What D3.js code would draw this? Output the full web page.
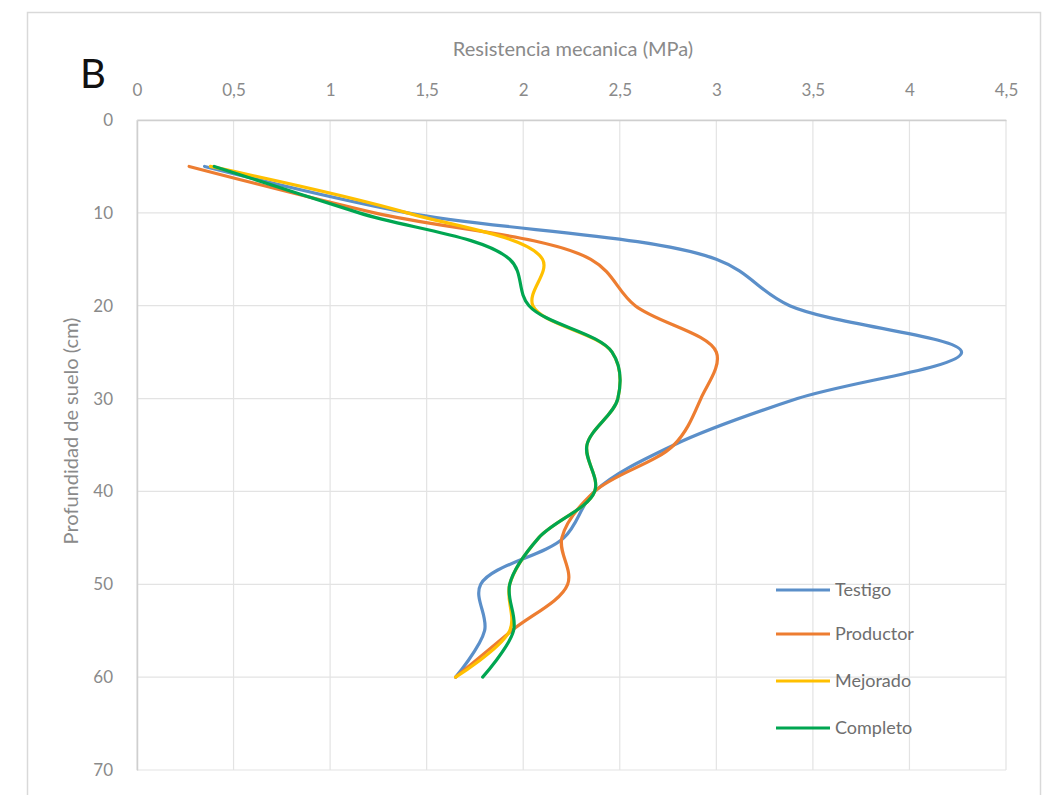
<!DOCTYPE html>
<html>
<head>
<meta charset="utf-8">
<script src="https://cdn.jsdelivr.net/npm/d3@7"></script>
<style>
  html, body { margin: 0; padding: 0; background: #ffffff; }
  svg { display: block; font-family: Lato, "Open Sans", "Liberation Sans", sans-serif; }
</style>
</head>
<body>
<svg id="chart" width="1055" height="795"></svg>
<script>
// Depth of each reading (cm)
const depths = [5, 10, 15, 20, 25, 30, 35, 40, 45, 50, 55, 60];

// Penetration resistance (MPa) per treatment
const testigo   = [0.35, 1.40, 3.00, 3.38, 4.27, 3.42, 2.78, 2.37, 2.21, 1.78, 1.80, 1.65];
const productor = [0.27, 1.23, 2.35, 2.58, 3.00, 2.92, 2.78, 2.37, 2.20, 2.23, 1.94, 1.65];
const mejorado  = [0.38, 1.40, 2.10, 2.05, 2.46, 2.49, 2.33, 2.37, 2.08, 1.93, 1.93, 1.65];
const completo  = [0.40, 1.15, 1.93, 2.03, 2.46, 2.49, 2.33, 2.37, 2.08, 1.93, 1.95, 1.79];

const seriesNames  = ["Testigo", "Productor", "Mejorado", "Completo"];
const seriesValues = [testigo, productor, mejorado, completo];
const seriesColors = ["#5B8FC9", "#ED7D31", "#FFC000", "#00A651"];

const xTicks = [0, 0.5, 1, 1.5, 2, 2.5, 3, 3.5, 4, 4.5];
const yTicks = [0, 10, 20, 30, 40, 50, 60, 70];

const panelLabel = "B";
const xTitle = "Resistencia mecanica (MPa)";
const yTitle = "Profundidad de suelo (cm)";

const svg = d3.select("#chart");

// outer chart frame
svg.append("rect")
  .attr("x", 27.5).attr("y", 12.5)
  .attr("width", 1013).attr("height", 790)
  .attr("fill", "#ffffff")
  .attr("stroke", "#d9d9d9").attr("stroke-width", 1.5);

const plot = { left: 137, right: 1006, top: 120, bottom: 770 };

const x = d3.scaleLinear().domain([0, 4.5]).range([plot.left, plot.right]);
const y = d3.scaleLinear().domain([0, 70]).range([plot.top, plot.bottom]);

const fmt = d => String(d).replace(".", ",");

// grid
const grid = svg.append("g").attr("stroke", "#e3e3e3").attr("stroke-width", 1.2);
grid.selectAll("line.v").data(xTicks).join("line")
  .attr("class", "v")
  .attr("x1", d => x(d)).attr("x2", d => x(d))
  .attr("y1", plot.top).attr("y2", plot.bottom);
grid.selectAll("line.h").data(yTicks).join("line")
  .attr("class", "h")
  .attr("x1", plot.left).attr("x2", plot.right)
  .attr("y1", d => y(d)).attr("y2", d => y(d));

// axes
const xAxis = svg.append("g")
  .attr("transform", `translate(0,${plot.top})`)
  .call(d3.axisTop(x).tickValues(xTicks).tickFormat(fmt).tickSize(0).tickPadding(24));
const yAxis = svg.append("g")
  .attr("transform", `translate(${plot.left},0)`)
  .call(d3.axisLeft(y).tickValues(yTicks).tickFormat(d => d).tickSize(0).tickPadding(24));

[xAxis, yAxis].forEach(ax => {
  ax.select(".domain").attr("stroke", "#cfcfcf").attr("stroke-width", 1.5);
  ax.selectAll("text")
    .attr("fill", "#8a8a8a")
    .style("font-size", "17px")
    .style("font-family", "Lato, 'Open Sans', sans-serif");
});

// series lines
const line = d3.line()
  .x(d => x(d[0]))
  .y(d => y(d[1]))
  .curve(d3.curveCatmullRom.alpha(0.5));

seriesValues.forEach((vals, i) => {
  const pts = vals.map((v, k) => [v, depths[k]]);
  svg.append("path")
    .datum(pts)
    .attr("fill", "none")
    .attr("stroke", seriesColors[i])
    .attr("stroke-width", 3.2)
    .attr("stroke-linejoin", "round")
    .attr("stroke-linecap", "round")
    .attr("d", line);
});

// titles
svg.append("text")
  .attr("x", 80).attr("y", 88)
  .attr("fill", "#111")
  .style("font-size", "40px")
  .text(panelLabel);

svg.append("text")
  .attr("x", 573).attr("y", 56)
  .attr("text-anchor", "middle")
  .attr("fill", "#8a8a8a")
  .style("font-size", "20px")
  .text(xTitle);

svg.append("text")
  .attr("transform", "translate(78,431) rotate(-90)")
  .attr("text-anchor", "middle")
  .attr("fill", "#8a8a8a")
  .style("font-size", "20px")
  .text(yTitle);

// legend
const legendY = [590, 634, 681, 728];
const legend = svg.append("g");
seriesNames.forEach((name, i) => {
  legend.append("line")
    .attr("x1", 776).attr("x2", 830)
    .attr("y1", legendY[i]).attr("y2", legendY[i])
    .attr("stroke", seriesColors[i]).attr("stroke-width", 3.2);
  legend.append("text")
    .attr("x", 835).attr("y", legendY[i])
    .attr("dy", "0.35em")
    .attr("fill", "#6e6e6e")
    .style("font-size", "18px")
    .text(name);
});
</script>
</body>
</html>
